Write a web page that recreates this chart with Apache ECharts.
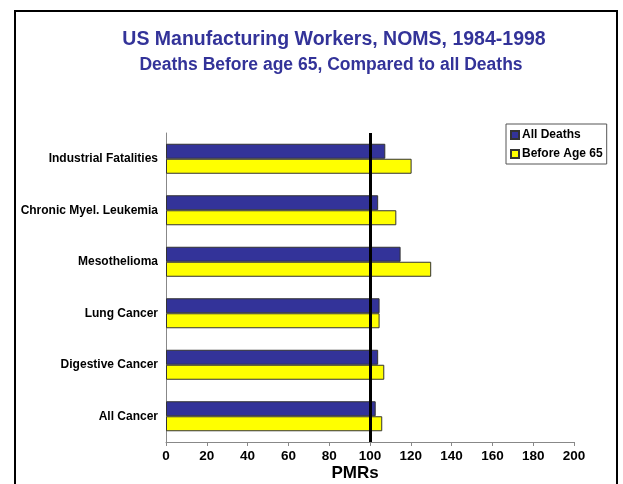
<!DOCTYPE html>
<html><head><meta charset="utf-8">
<script src="https://cdn.jsdelivr.net/npm/echarts@6/dist/echarts.min.js"></script>
<style>html,body{margin:0;padding:0;background:#fff;}#c{width:623px;height:484px;}</style>
</head><body><div id="c"></div>
<script>
const categories = ['Industrial Fatalities','Chronic Myel. Leukemia','Mesothelioma','Lung Cancer','Digestive Cancer','All Cancer'];
const allDeaths = [107.5, 104, 115, 104.7, 104, 102.8];
const beforeAge65 = [120.4, 112.9, 130, 104.7, 107, 106];
const xTicks = [0,20,40,60,80,100,120,140,160,180,200];
const refValue = 100;

const F = 'Arial, "Liberation Sans", sans-serif';
const chart = echarts.init(document.getElementById('c'));
chart.setOption({
  animation: false,
  backgroundColor: '#fff',
  title: [{
    text: 'US Manufacturing Workers, NOMS, 1984-1998',
    left: 329, top: 25, textAlign: 'center',
    textStyle: {fontFamily: F, fontSize: 19.5, fontWeight: 'bold', color: '#333399'}
  },{
    text: 'Deaths Before age 65, Compared to all Deaths',
    left: 326, top: 51, textAlign: 'center',
    textStyle: {fontFamily: F, fontSize: 17.5, fontWeight: 'bold', color: '#333399'}
  },{
    text: 'PMRs',
    left: 350, top: 460, textAlign: 'center',
    textStyle: {fontFamily: F, fontSize: 17, fontWeight: 'bold', color: '#000'}
  }],
  graphic: [{
    type: 'rect', shape: {x: 15, y: 11, width: 602, height: 490},
    style: {fill: 'none', stroke: '#000', lineWidth: 2}, silent: true
  }],
  legend: {
    left: 506, top: 124, orient: 'vertical',
    itemWidth: 8, itemHeight: 8, itemGap: 7,
    padding: [5, 4, 4, 4],
    borderColor: '#555', borderWidth: 1, backgroundColor: '#fff',
    icon: 'rect',
    textStyle: {fontFamily: F, fontSize: 12, fontWeight: 'bold', color: '#000', padding: [0,0,0,-2]},
    data: ['All Deaths', 'Before Age 65']
  },
  grid: {left: 166, right: 49, top: 133, bottom: 42, containLabel: false, outerBoundsMode: 'none'},
  xAxis: {
    type: 'value', min: 0, max: 200, interval: 20,
    axisLine: {show: true, lineStyle: {color: '#888', width: 1}},
    axisTick: {show: true, length: 4, lineStyle: {color: '#888'}},
    splitLine: {show: false},
    axisLabel: {fontFamily: F, fontSize: 13.5, fontWeight: 'bold', color: '#000', margin: 7,
      customValues: xTicks}
  },
  yAxis: {
    type: 'category', inverse: true, data: categories,
    axisLine: {show: true, lineStyle: {color: '#888', width: 1}},
    axisTick: {show: false},
    axisLabel: {fontFamily: F, fontSize: 12, fontWeight: 'bold', color: '#000', margin: 8}
  },
  series: [{
    name: 'All Deaths', type: 'bar', data: allDeaths, barWidth: 15, barGap: '0%',
    itemStyle: {color: '#333399', borderColor: '#333', borderWidth: 1},
    markLine: {
      silent: true, symbol: 'none', label: {show: false},
      lineStyle: {color: '#000', width: 3, type: 'solid'},
      data: [{xAxis: refValue}]
    }
  },{
    name: 'Before Age 65', type: 'bar', data: beforeAge65, barWidth: 15,
    itemStyle: {color: '#ffff00', borderColor: '#333', borderWidth: 1}
  }]
});
</script></body></html>
